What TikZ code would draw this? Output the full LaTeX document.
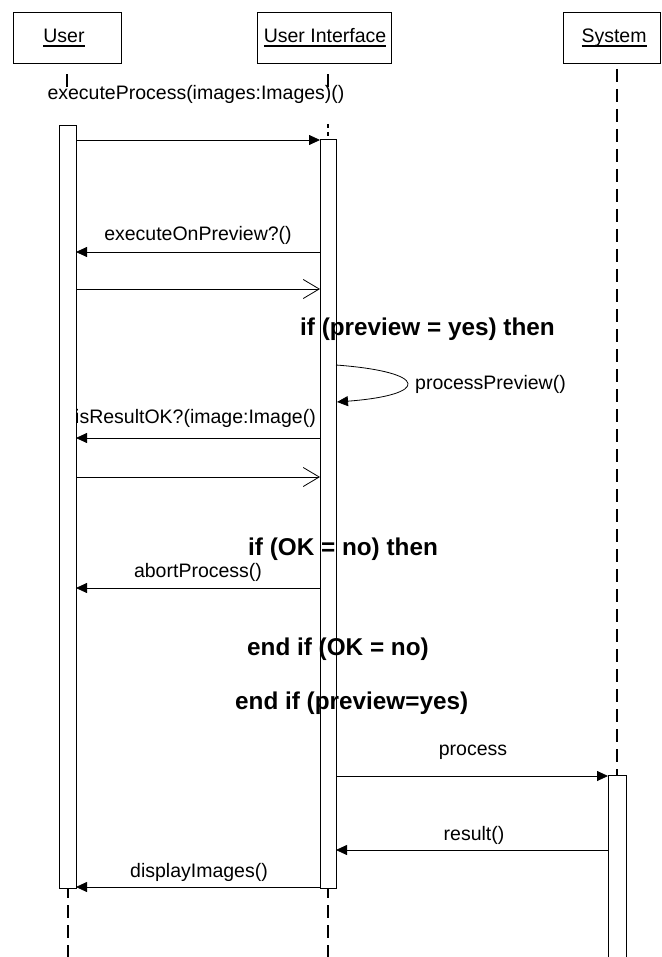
\documentclass[tikz,border=0pt]{standalone}
\usepackage{fontspec}
\setmainfont{Liberation Sans}
\usetikzlibrary{arrows.meta}
% object name with an underline set just below the baseline
\newcommand\objname[1]{\setbox0\hbox{#1}\rlap{\vrule height -2.4pt depth 3.7pt width \wd0}\box0}
\begin{document}
\begin{tikzpicture}[x=1pt,y=-1pt,
  objbox/.style={draw, line width=0.8pt, inner sep=0pt, minimum height=51pt},
  objtext/.style={font=\fontsize{19.5}{22}\selectfont, inner sep=0pt, anchor=base},
  lifeline/.style={line width=2.6pt, dash pattern=on 13pt off 7pt},
  actbar/.style={draw, line width=0.8pt, fill=white, inner sep=0pt, anchor=north},
  msg/.style={line width=0.8pt, -{Triangle[length=11pt,width=10pt]}},
  reply/.style={line width=0.8pt, -{Straight Barb[length=16pt,width=19pt,line width=0.8pt]}},
  lbl/.style={font=\fontsize{19.5}{22}\selectfont, inner sep=0pt},
  cond/.style={font=\fontsize{24.3}{28}\selectfont\bfseries, inner sep=0pt, anchor=base west}
]
\useasboundingbox (0,0) rectangle (661,957);

% object heads
\node[objbox, minimum width=108pt] (user) at (67,37.5) {};
\node[objbox, minimum width=134pt] (ui) at (324,37.5) {};
\node[objbox, minimum width=97pt] (sys) at (611.5,37.5) {};
\node[objtext] (userName) at (64,43) {\objname{User}};
\node[objtext] (uiName) at (325,43) {\objname{User Interface}};
\node[objtext] (sysName) at (614,43) {\objname{System}};

% lifelines
\coordinate (userTop) at (67,89);
\coordinate (uiTop) at (328,89);
\coordinate (uiMid) at (328,124);
\coordinate (uiAct) at (328,139);
\coordinate (sysTop) at (617,63);
\coordinate (sysAct) at (617,775);
\coordinate (userEnd) at (68,960);
\coordinate (uiEnd) at (328,960);
\draw[lifeline, shorten <=11pt] (user.south) -- (userTop);
\draw[lifeline, shorten <=11pt] (uiTop |- ui.south) -- (uiTop);
\draw[lifeline, dash pattern=on 4pt off 4pt] (uiMid) -- (uiAct);
\draw[lifeline, shorten <=6pt] (sysTop) -- (sysAct);
\draw[lifeline, dash phase=3pt] (68,888) -- (userEnd);
\draw[lifeline, dash phase=3pt] (328,888) -- (uiEnd);

% activation bars
\node[actbar, minimum width=17pt, minimum height=763pt] (userBar) at (67.5,125) {};
\node[actbar, minimum width=16pt, minimum height=749pt] (uiBar) at (328,139) {};
\draw[line width=0.8pt, fill=white] (608,960) -- (608,775) -- (626,775) -- (626,960);

% message end points
\coordinate (a1) at (76,140);   \coordinate (b1) at (320,140);
\coordinate (a2) at (320,252);  \coordinate (b2) at (76,252);
\coordinate (a3) at (76,289);   \coordinate (b3) at (320,289);
\coordinate (s1) at (336,365);  \coordinate (s2) at (337,402);
\coordinate (a4) at (320,438);  \coordinate (b4) at (76,438);
\coordinate (a5) at (76,477);   \coordinate (b5) at (320,477);
\coordinate (a6) at (320,588);  \coordinate (b6) at (76,588);
\coordinate (a7) at (336,776);  \coordinate (b7) at (608,776);
\coordinate (a8) at (608,850);  \coordinate (b8) at (336,850);
\coordinate (a9) at (320,887);  \coordinate (b9) at (76,887);

% messages
\draw[msg] (a1) -- (b1);
\draw[msg] (a2) -- (b2);
\draw[reply] (a3) -- (b3);
\draw[msg] (s1) .. controls (430,372) and (430,395) .. (s2);
\draw[msg] (a4) -- (b4);
\draw[reply] (a5) -- (b5);
\draw[msg] (a6) -- (b6);
\draw[msg] (a7) -- (b7);
\draw[msg] (a8) -- (b8);
\draw[msg] (a9) -- (b9);

% message labels
\node[lbl, anchor=base] (l1) at (196,100) {executeProcess(images:Images)()};
\node[lbl, anchor=base] (l2) at (198,241) {executeOnPreview?()};
\node[lbl, anchor=base west] (l3) at (415,389) {processPreview()};
\node[lbl, anchor=base west] (l4) at (75,423) {isResultOK?(image:Image()};
\node[lbl, anchor=base] (l5) at (198,577) {abortProcess()};
\node[lbl, anchor=base] (l6) at (473,755) {process};
\node[lbl, anchor=base] (l7) at (474,840) {result()};
\node[lbl, anchor=base] (l8) at (199,877) {displayImages()};

% guard conditions
\node[cond] (c1) at (300,335) {if (preview = yes) then};
\node[cond] (c2) at (248,555) {if (OK = no) then};
\node[cond] (c3) at (247,655) {end if (OK = no)};
\node[cond] (c4) at (235,709) {end if (preview=yes)};
\end{tikzpicture}
\end{document}
